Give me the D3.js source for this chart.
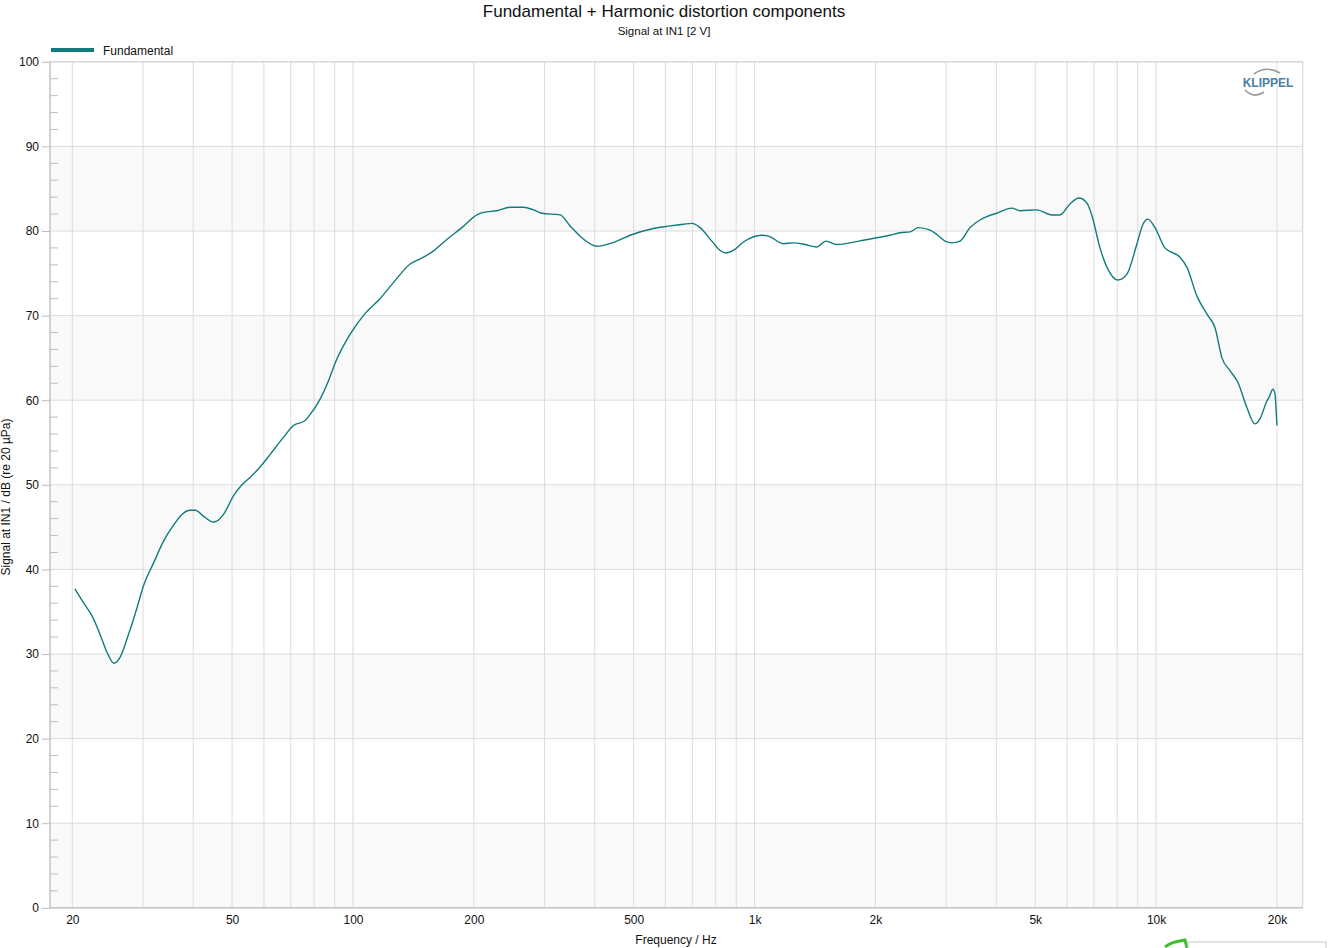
<!DOCTYPE html>
<html><head><meta charset="utf-8">
<script src="https://cdn.jsdelivr.net/npm/d3@7"></script>
<style>body{margin:0;background:#fff;font-family:"Liberation Sans",Arial,sans-serif}</style>
</head><body><svg id="c" width="1328" height="948"></svg>
<script>
const freqs = [20.3,21.3,22.4,23.5,24.4,25.4,26.3,27.6,29.0,30.1,31.9,33.8,35.7,37.5,39.3,40.5,42.4,44.9,45.8,47.6,50.4,52.9,55.5,58.2,62.2,67.1,71.1,76.0,77.9,82.1,86.9,90.3,98.4,107,116.2,126.1,138.8,147.0,157.2,171.3,186.7,203.5,211.3,228.2,246.2,265.8,281.4,295.3,327.9,347.3,371.4,404.9,428.7,454.0,490.0,560.0,616.3,664.9,697.7,731.7,782.7,820.7,849.4,885.7,938.0,1042,1083,1180,1249,1336,1428,1507,1602,1729,1867,2015,2175,2303,2439,2558,2735,2842,2981,3097,3248,3440,3643,3786,4009,4369,4582,5042,5504,5762,6102,6424,6728,6923,7248,7546,8036,8460,8960,9274,9542,9934,10520,11466,11936,12638,13460,14012,14586,15272,15988,16836,17620,18140,18876,19092,19538,19760,19990];
const fundamental = [37.7,36.1,34.5,32.2,30.2,28.9,29.6,32.3,35.5,38.1,40.8,43.4,45.2,46.5,47.0,47.0,46.3,45.6,45.7,46.5,48.7,50.0,50.9,51.9,53.6,55.6,57.0,57.6,58.2,59.8,62.3,64.4,67.8,70.2,71.9,73.9,76.1,76.7,77.5,79.0,80.4,81.9,82.2,82.4,82.8,82.8,82.5,82.1,81.9,80.6,79.2,78.2,78.4,78.8,79.5,80.3,80.6,80.8,80.9,80.4,78.8,77.7,77.4,77.7,78.7,79.5,79.4,78.5,78.6,78.4,78.1,78.8,78.4,78.6,78.9,79.2,79.5,79.8,79.9,80.4,80.1,79.6,78.8,78.6,78.8,80.4,81.3,81.7,82.1,82.7,82.4,82.5,81.9,81.9,83.2,83.9,83.3,81.8,78.0,75.7,74.2,74.9,78.5,80.8,81.4,80.4,78.0,76.9,75.7,72.3,70.0,68.6,65.0,63.5,62.1,59.1,57.2,57.8,59.9,60.3,61.3,60.8,57.0];
const xGridValues = [20,30,40,50,60,70,80,90,100,200,300,400,500,600,700,800,900,1000,2000,3000,4000,5000,6000,7000,8000,9000,10000,20000];
const xTickValues = [20,50,100,200,500,1000,2000,5000,10000,20000];
const xTickLabels = ["20","50","100","200","500","1k","2k","5k","10k","20k"];
const yTickValues = [0,10,20,30,40,50,60,70,80,90,100];

const svg = d3.select("#c");
const L=50, R=1302.7, T=61.8, B=907.8;
const x = d3.scaleLog().domain([20,20000]).range([72.3,1277]);
const y = d3.scaleLinear().domain([0,100]).range([B,T]);
const teal = "#127b7b";
const grid = "#dcdcdc";

svg.append("g").selectAll("rect").data([0,20,40,60,80]).join("rect")
  .attr("x",L).attr("width",R-L).attr("y",d=>y(d+10)).attr("height",d=>y(d)-y(d+10)).attr("fill","#f9f9f9");
svg.append("g").selectAll("line").data(xGridValues).join("line")
  .attr("x1",d=>x(d)).attr("x2",d=>x(d)).attr("y1",T).attr("y2",B).attr("stroke",grid).attr("stroke-width",1);
svg.append("g").selectAll("line").data(yTickValues).join("line")
  .attr("x1",L).attr("x2",R).attr("y1",d=>y(d)).attr("y2",d=>y(d)).attr("stroke",grid).attr("stroke-width",1);
svg.append("rect").attr("x",L).attr("y",T).attr("width",R-L).attr("height",B-T).attr("fill","none").attr("stroke","#d0d0d0");
svg.append("line").attr("x1",L).attr("x2",L).attr("y1",T).attr("y2",B).attr("stroke","#bdbdbd");
svg.append("line").attr("x1",L).attr("x2",R).attr("y1",B).attr("y2",B).attr("stroke","#bdbdbd");

const yAxis = d3.axisLeft(y).tickValues(yTickValues).tickSize(8).tickPadding(3);
const gy = svg.append("g").attr("transform",`translate(${L},0)`).call(yAxis);
gy.select(".domain").remove();
gy.selectAll("line").attr("stroke","#bdbdbd");
gy.selectAll("text").attr("font-family","Liberation Sans, Arial, sans-serif").attr("font-size",12).attr("fill","#111");
const minor = d3.range(0,101,2).filter(v=>v%10!==0);
svg.append("g").selectAll("line").data(minor).join("line")
  .attr("x1",L).attr("x2",L+8).attr("y1",d=>y(d)).attr("y2",d=>y(d)).attr("stroke","#bdbdbd");

const xAxis = d3.axisBottom(x).tickValues(xTickValues).tickFormat((d,i)=>xTickLabels[i]).tickSize(0).tickPadding(8);
const gx = svg.append("g").attr("transform",`translate(0,${B})`).call(xAxis);
gx.select(".domain").remove();
gx.selectAll("text").attr("font-family","Liberation Sans, Arial, sans-serif").attr("font-size",12).attr("fill","#111");

const data = freqs.map((f,i)=>[f,fundamental[i]]);
svg.append("path").datum(data)
  .attr("d",d3.line().x(d=>x(d[0])).y(d=>y(d[1])).curve(d3.curveMonotoneX))
  .attr("fill","none").attr("stroke",teal).attr("stroke-width",1.4);

svg.append("text").attr("x",664).attr("y",17).attr("text-anchor","middle").attr("font-size",17).attr("fill","#111").text("Fundamental + Harmonic distortion components");
svg.append("text").attr("x",664).attr("y",35).attr("text-anchor","middle").attr("font-size",11.5).attr("fill","#111").text("Signal at IN1 [2 V]");
svg.append("text").attr("x",676).attr("y",944).attr("text-anchor","middle").attr("font-size",12).attr("fill","#111").text("Frequency / Hz");
svg.append("text").attr("transform","translate(10,497) rotate(-90)").attr("text-anchor","middle").attr("font-size",12).attr("fill","#111").text("Signal at IN1 / dB (re 20 µPa)");

svg.append("line").attr("x1",51).attr("x2",94).attr("y1",50).attr("y2",50).attr("stroke",teal).attr("stroke-width",4);
svg.append("text").attr("x",103).attr("y",55).attr("font-size",12).attr("fill","#111").text("Fundamental");

svg.append("text").attr("x",1268).attr("y",87).attr("text-anchor","middle").attr("font-size",12).attr("font-weight","bold").attr("fill","#4b7fa6").text("KLIPPEL");
svg.append("path").attr("d","M1254,74 Q1266,65 1280,73").attr("fill","none").attr("stroke","#9a9a9a").attr("stroke-width",1.6);
svg.append("path").attr("d","M1245,90 Q1254,99 1264,92").attr("fill","none").attr("stroke","#9a9a9a").attr("stroke-width",1.6);

svg.append("path").attr("d","M1165,947 Q1170,942 1185,940 L1187,948").attr("fill","none").attr("stroke","#3bbf2e").attr("stroke-width",3);
svg.append("rect").attr("x",1188).attr("y",942).attr("width",138).attr("height",10).attr("fill","#fff").attr("stroke","#c8c8c8");
</script></body></html>
